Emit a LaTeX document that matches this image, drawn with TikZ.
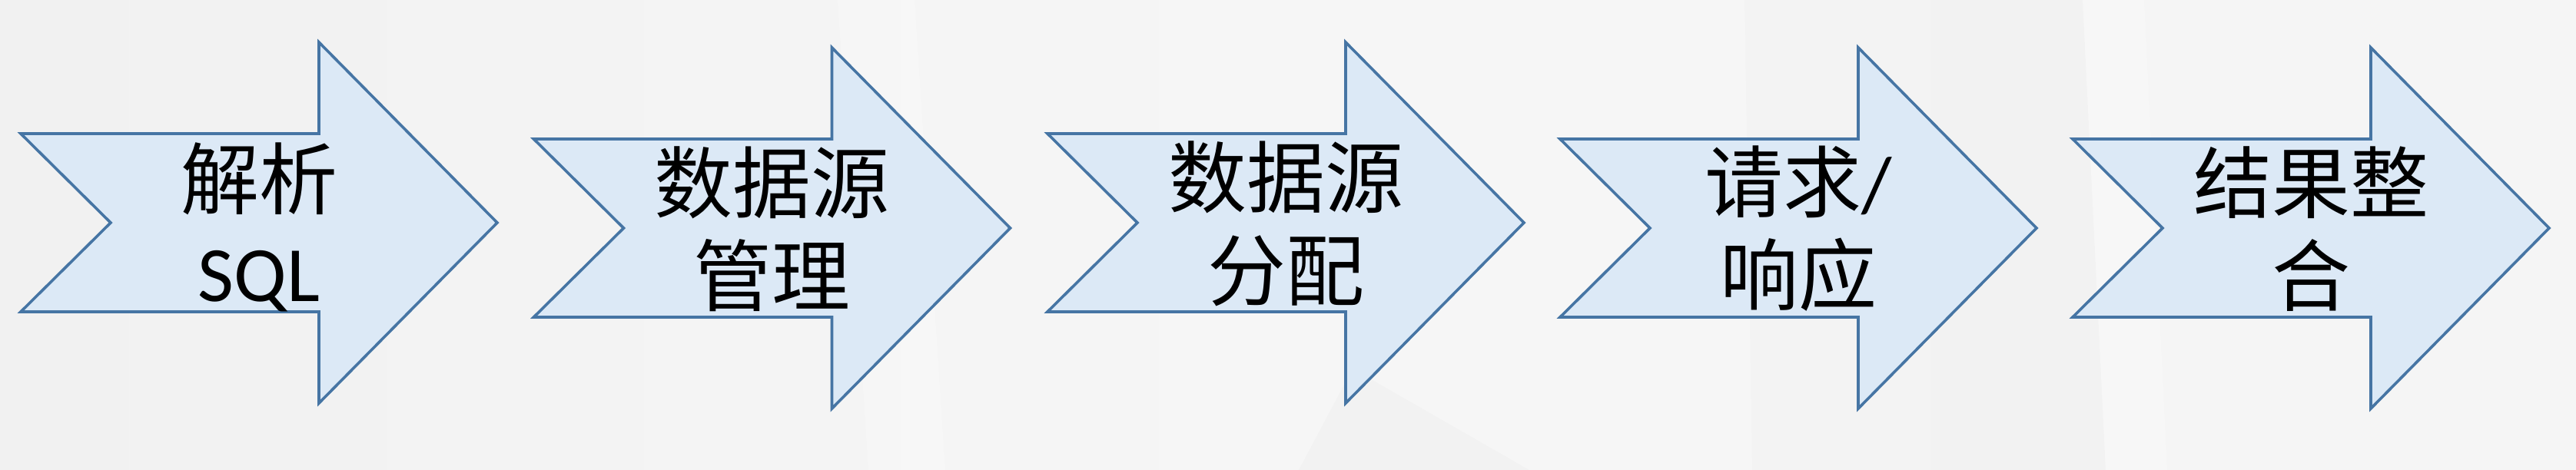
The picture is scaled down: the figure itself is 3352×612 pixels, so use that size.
\documentclass[tikz,border=0pt]{standalone}
\usepackage{fontspec}
\setmainfont{Carlito}
\newfontfamily\cjk{Noto Sans CJK SC}
\definecolor{bgleft}{RGB}{241,241,241}
\definecolor{bgmid}{RGB}{246,246,246}
\definecolor{bgright}{RGB}{245,245,245}
\definecolor{arrfill}{RGB}{220,233,246}
\definecolor{arrline}{RGB}{70,117,164}
\tikzset{
  steparrow/.style={fill=arrfill, draw=arrline, line width=3.6pt, line join=miter},
  steptext/.style={align=center, font=\fontsize{102}{121}\selectfont, inner sep=0pt, text=black},
  pics/notcharrow/.style={code={
    \draw[steparrow] (0,-116) -- (388,-116) -- (388,-235) -- (620,0) -- (388,235)
      -- (388,116) -- (0,116) -- (117,0) -- cycle;
  }},
}
\begin{document}
\begin{tikzpicture}[x=1pt,y=-1pt]
\useasboundingbox (0,0) rectangle (3352,612);
\shade[left color=bgleft, right color=bgright, middle color=bgmid] (0,0) rectangle (3352,612);
% faint background streaks
\fill[white, opacity=0.25] (1090,0) -- (1190,0) -- (1230,612) -- (1130,612) -- cycle;
\fill[black, opacity=0.012] (2270,0) -- (2710,0) -- (2740,612) -- (2280,612) -- cycle;
\fill[white, opacity=0.25] (2710,0) -- (2790,0) -- (2820,612) -- (2740,612) -- cycle;
\fill[black, opacity=0.015] (1690,612) -- (1760,480) -- (1990,612) -- cycle;

\pic (a1) at (27,290) {notcharrow};
\pic (a2) at (694.5,297) {notcharrow};
\pic (a3) at (1363,290) {notcharrow};
\pic (a4) at (2030,297) {notcharrow};
\pic (a5) at (2697,297) {notcharrow};

\node[steptext] (s1) at (337,296) {{\cjk 解析}\\SQL};
\node[steptext] (s2) at (1004.5,298) {{\cjk 数据源}\\{\cjk 管理}};
\node[steptext] (s3) at (1673,291) {{\cjk 数据源}\\{\cjk 分配}};
\node[steptext] (s4) at (2340,298) {{\cjk 请求}/\\{\cjk 响应}};
\node[steptext] (s5) at (3007,298) {{\cjk 结果整}\\{\cjk 合}};
\end{tikzpicture}
\end{document}
